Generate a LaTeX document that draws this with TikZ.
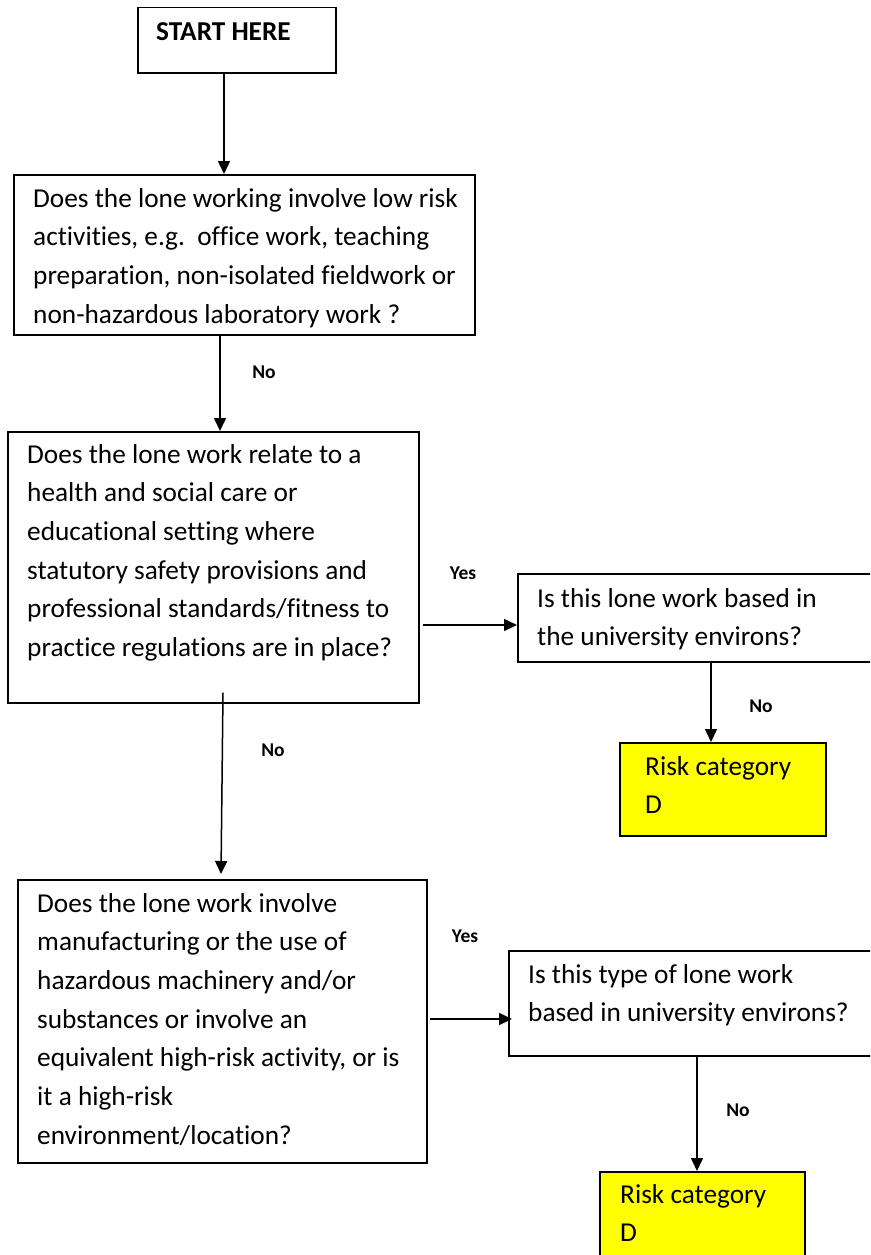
\documentclass[tikz,border=0pt]{standalone}
\usepackage{fontspec}
\setmainfont{Carlito}[Ligatures={NoCommon}]
\usetikzlibrary{arrows.meta}
\definecolor{riskyellow}{RGB}{255,255,0}
\tikzset{
  box/.style={draw=black, line width=1.5pt, fill=white, inner sep=0pt, anchor=north west},
  riskbox/.style={box, fill=riskyellow},
  txt/.style={inner sep=0pt, anchor=base west, font=\fontsize{27.3}{38.7}\selectfont},
  lbl/.style={inner sep=0pt, anchor=center, font=\fontsize{19.5}{22}\selectfont\bfseries},
  arr/.style={-{Triangle[length=13pt,width=12pt]}, line width=1.5pt}
}
\newcommand{\boxtext}[1]{\parbox[t]{600pt}{\raggedright #1}}
\begin{document}
\begin{tikzpicture}[x=1pt,y=-1pt]
\path[use as bounding box, clip] (0,0) rectangle (870,1255);
\fill[white] (0,0) rectangle (870,1255);

% boxes
\node[box, minimum width=198pt, minimum height=65pt] (start) at (137,7) {};
\node[box, minimum width=461pt, minimum height=160pt] (q1) at (13,174) {};
\node[box, minimum width=411pt, minimum height=271pt] (q2) at (7,431) {};
\node[box, minimum width=363pt, minimum height=88pt] (q3) at (517,573) {};
\node[riskbox, minimum width=206pt, minimum height=93pt] (d1) at (619,742) {};
\node[box, minimum width=409pt, minimum height=283pt] (q4) at (17,879) {};
\node[box, minimum width=372pt, minimum height=105pt] (q5) at (508,950) {};
\node[riskbox, minimum width=205pt, minimum height=94pt] (d2) at (599,1171) {};

% texts
\node[txt, font=\fontsize{27.3}{38.7}\selectfont\bfseries] (tstart) at (156,41) {START HERE};
\node[txt] (t1) at (33,207) {\boxtext{Does the lone working involve low risk\\activities, e.g.\ \ office work, teaching\\preparation, non-isolated fieldwork or\\non-hazardous laboratory work ?}};
\node[txt] (t2) at (27,463) {\boxtext{Does the lone work relate to a\\health and social care or\\educational setting where\\statutory safety provisions and\\professional standards/fitness to\\practice regulations are in place?}};
\node[txt] (t3) at (537,607) {\boxtext{Is this lone work based in\\the university environs?}};
\node[txt] (t4) at (645,775) {\boxtext{Risk category\\D}};
\node[txt] (t5) at (37,912) {\boxtext{Does the lone work involve\\manufacturing or the use of\\hazardous machinery and/or\\substances or involve an\\equivalent high-risk activity, or is\\it a high-risk\\environment/location?}};
\node[txt] (t6) at (528,983) {\boxtext{Is this type of lone work\\based in university environs?}};
\node[txt] (t7) at (620,1203) {\boxtext{Risk category\\D}};

% labels
\node[lbl] (no1) at (264,372) {No};
\node[lbl] (yes1) at (463,573) {Yes};
\node[lbl] (no2) at (761,706) {No};
\node[lbl] (no3) at (273,750) {No};
\node[lbl] (yes2) at (465,936) {Yes};
\node[lbl] (no4) at (738,1110) {No};

% connectors
\coordinate (s1) at ([yshift=11pt]q2.south -| 223,0);
\coordinate (e1) at ([yshift=5pt]q4.north -| 221,0);
\coordinate (s2) at ([xshift=3pt]q2.east |- 0,625);
\coordinate (s3) at ([xshift=2pt]q4.east |- 0,1019);
\draw[arr] (start.south -| 224,0) -- (q1.north -| 224,0);
\draw[arr] (q1.south -| 220,0) -- (q2.north -| 220,0);
\draw[arr] (s2) -- (q3.west |- 0,625);
\draw[arr] (q3.south -| 711,0) -- (d1.north -| 711,0);
\draw[arr] (s1) -- (e1);
\draw[arr] (s3) -- ([xshift=4pt]q5.west |- 0,1019);
\draw[arr] (q5.south -| 697,0) -- (d2.north -| 697,0);
\end{tikzpicture}
\end{document}
